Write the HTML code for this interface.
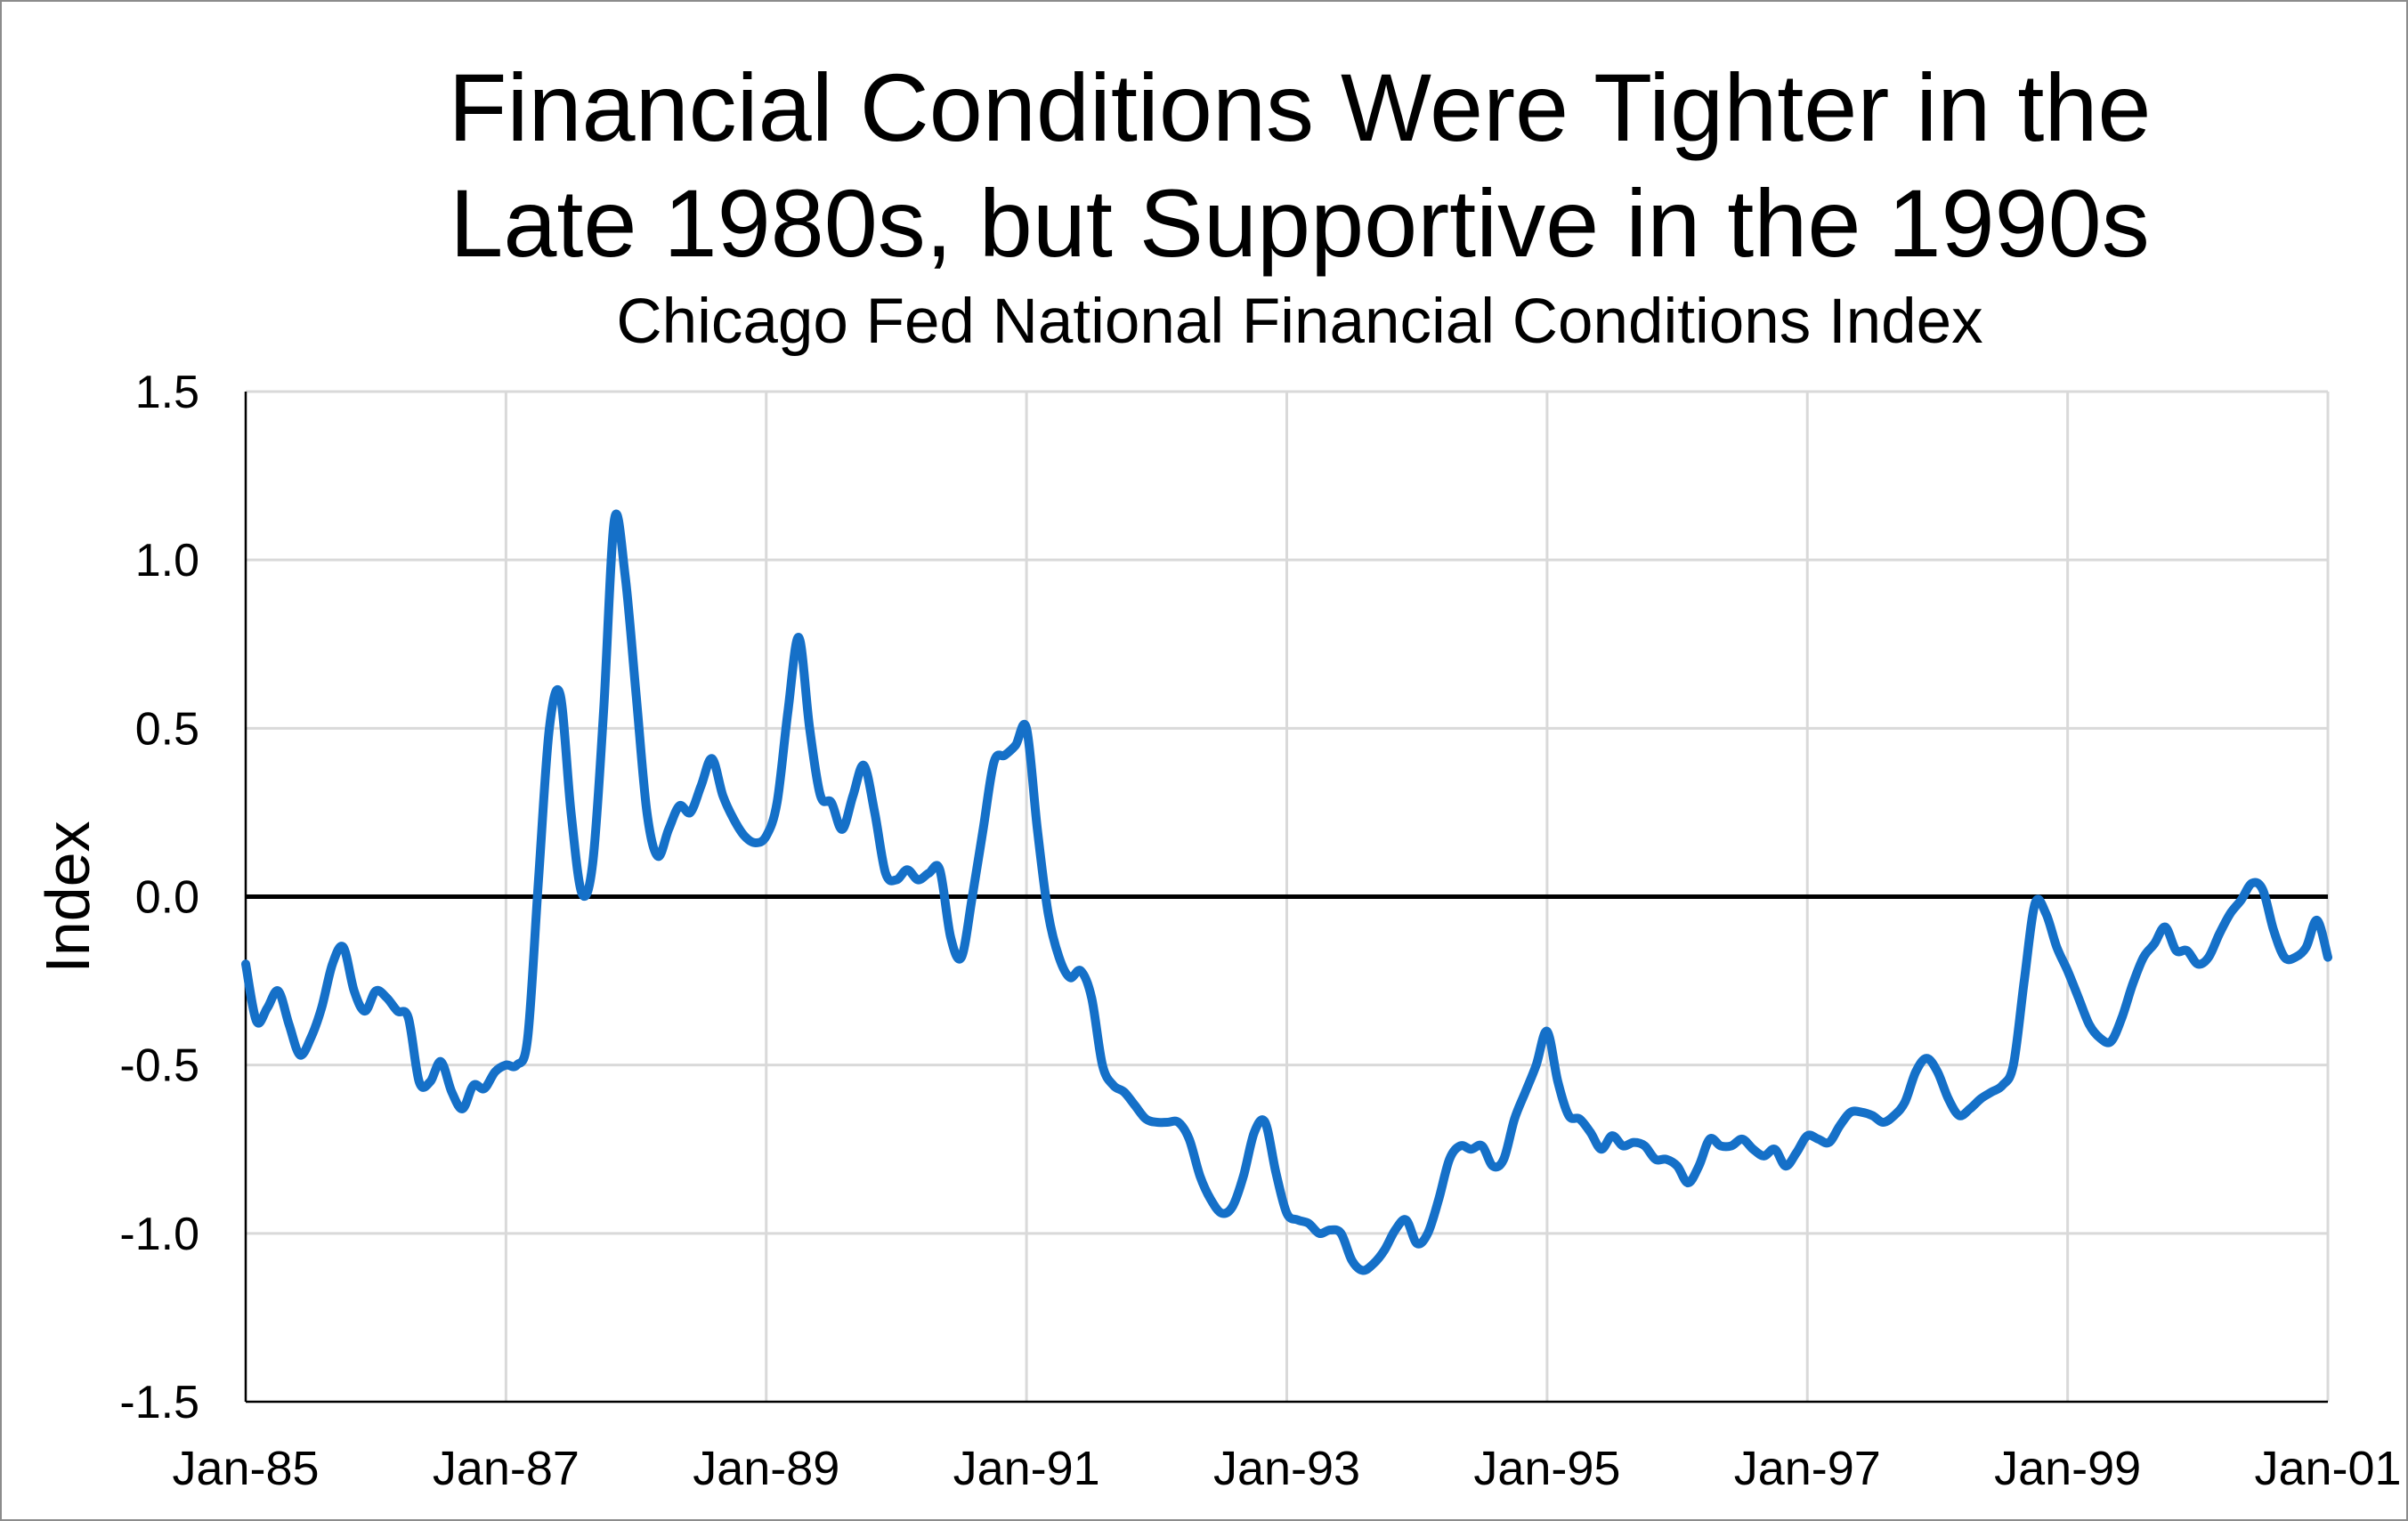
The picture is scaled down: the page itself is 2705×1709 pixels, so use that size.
<!DOCTYPE html>
<html><head><meta charset="utf-8"><style>
html,body{margin:0;padding:0;background:#fff}
svg{display:block}
text{font-family:"Liberation Sans",sans-serif;fill:#000}
</style></head><body>
<svg id="chart" width="2705" height="1709" viewBox="0 0 2705 1709">
<rect x="1" y="1" width="2703" height="1707" fill="#fff" stroke="#8c8c8c" stroke-width="2"/>
<text x="1460" y="158" font-size="108" text-anchor="middle">Financial Conditions Were Tighter in the</text>
<text x="1460" y="288" font-size="108" text-anchor="middle">Late 1980s, but Supportive in the 1990s</text>
<text x="1460" y="385" font-size="71" text-anchor="middle">Chicago Fed National Financial Conditions Index</text>
<text transform="translate(100,1008) rotate(-90)" font-size="70" text-anchor="middle">Index</text>
<g id="grid"></g>
<g id="axes"></g>
<g id="series"></g>
</svg>
<script>
const yTicks = [-1.5,-1.0,-0.5,0.0,0.5,1.0,1.5];
const yTickLabels = ["-1.5","-1.0","-0.5","0.0","0.5","1.0","1.5"];
const xTickLabels = ["Jan-85","Jan-87","Jan-89","Jan-91","Jan-93","Jan-95","Jan-97","Jan-99","Jan-01"];
const xTickYears = [1985,1987,1989,1991,1993,1995,1997,1999,2001];
const startYear = 1985;
const nfci = [
-0.2,-0.37,-0.33,-0.28,-0.38,-0.47,-0.42,-0.33,-0.2,-0.15,-0.28,-0.34,
-0.28,-0.3,-0.34,-0.36,-0.55,-0.55,-0.49,-0.58,-0.63,-0.56,-0.57,-0.52,
-0.5,-0.5,-0.42,0.05,0.5,0.6,0.25,0.01,0.1,0.55,1.12,0.95,
0.6,0.25,0.12,0.2,0.27,0.25,0.33,0.41,0.3,0.23,0.18,0.16,
0.18,0.28,0.55,0.77,0.5,0.3,0.28,0.2,0.3,0.39,0.25,0.07,
0.05,0.08,0.05,0.07,0.08,-0.12,-0.18,0.0,0.2,0.4,0.42,0.45,
0.5,0.2,-0.05,-0.18,-0.24,-0.22,-0.3,-0.5,-0.56,-0.58,-0.62,-0.66,
-0.67,-0.67,-0.67,-0.72,-0.83,-0.9,-0.94,-0.92,-0.83,-0.7,-0.67,-0.82,
-0.94,-0.96,-0.97,-1.0,-0.99,-1.0,-1.08,-1.11,-1.09,-1.05,-0.99,-0.96,
-1.03,-1.0,-0.9,-0.78,-0.74,-0.75,-0.74,-0.8,-0.78,-0.66,-0.58,-0.5,
-0.4,-0.55,-0.65,-0.66,-0.7,-0.75,-0.71,-0.74,-0.73,-0.74,-0.78,-0.78,
-0.8,-0.85,-0.8,-0.72,-0.74,-0.74,-0.72,-0.75,-0.77,-0.75,-0.8,-0.76,
-0.71,-0.72,-0.73,-0.68,-0.64,-0.64,-0.65,-0.67,-0.65,-0.61,-0.52,-0.48,
-0.52,-0.6,-0.65,-0.63,-0.6,-0.58,-0.56,-0.5,-0.25,-0.02,-0.05,-0.15,
-0.22,-0.3,-0.38,-0.42,-0.43,-0.36,-0.26,-0.18,-0.14,-0.09,-0.16,-0.16,
-0.2,-0.18,-0.11,-0.05,-0.01,0.04,0.02,-0.1,-0.18,-0.18,-0.15,-0.07,
-0.18
];
const L=276,R=2615,T=440,B=1575;
const NS="http://www.w3.org/2000/svg";
function xScale(monthIndex){return L+(R-L)*monthIndex/192;}
function xYear(y){return xScale((y-startYear)*12);}
function yScale(v){return B-(v+1.5)/3*(B-T);}
function mk(tag,attrs,parent){const e=document.createElementNS(NS,tag);for(const k in attrs)e.setAttribute(k,attrs[k]);parent.appendChild(e);return e;}
const grid=document.getElementById('grid'),axes=document.getElementById('axes'),series=document.getElementById('series');
yTicks.forEach((v,i)=>{
  if(v!==0&&v!==-1.5){
    const g=mk('line',{x1:L,x2:R,y1:yScale(v),y2:yScale(v),stroke:'#d9d9d9','stroke-width':3},grid);
    
    
  }
  const t=mk('text',{x:224,y:yScale(v)+18,'font-size':52,'text-anchor':'end'},axes);
  t.textContent=yTickLabels[i];
  
  
});
xTickYears.forEach((yr,i)=>{
  if(i>0){
    const g=mk('line',{x1:xYear(yr),x2:xYear(yr),y1:T,y2:B,stroke:'#d9d9d9','stroke-width':3},grid);
    
    
  }
  const t=mk('text',{x:xYear(yr),y:1668,'font-size':54,'text-anchor':'middle'},axes);
  t.textContent=xTickLabels[i];
  
  
});
const ya=mk('line',{x1:L,x2:L,y1:T,y2:B,stroke:'#000','stroke-width':2.5},axes);


const xa=mk('line',{x1:L,x2:R,y1:B,y2:B,stroke:'#000','stroke-width':2.5},axes);


const zl=mk('line',{x1:L,x2:R,y1:yScale(0),y2:yScale(0),stroke:'#000','stroke-width':5},axes);


const pts=nfci.map((v,i)=>[xScale(i),yScale(v)]);
let d='M'+pts[0][0]+','+pts[0][1];
for(let i=0;i<pts.length-1;i++){
  const p0=pts[Math.max(0,i-1)],p1=pts[i],p2=pts[i+1],p3=pts[Math.min(pts.length-1,i+2)];
  const c1x=p1[0]+(p2[0]-p0[0])/6,c1y=p1[1]+(p2[1]-p0[1])/6;
  const c2x=p2[0]-(p3[0]-p1[0])/6,c2y=p2[1]-(p3[1]-p1[1])/6;
  d+=' C'+c1x+','+c1y+' '+c2x+','+c2y+' '+p2[0]+','+p2[1];
}
const line=mk('path',{d:d,fill:'none',stroke:'#1570c8','stroke-width':10,'stroke-linejoin':'round','stroke-linecap':'round'},series);


</script>
</body></html>
